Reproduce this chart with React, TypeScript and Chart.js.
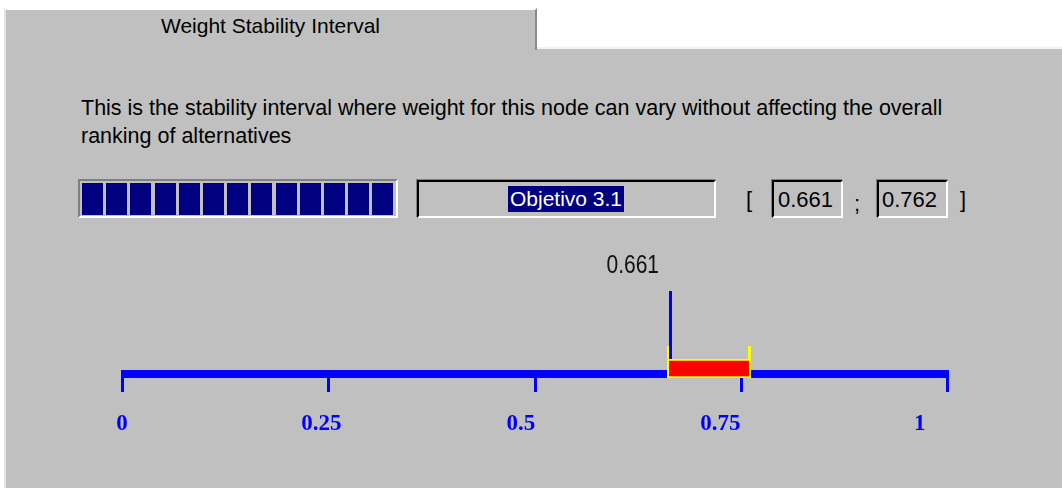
import React, { useEffect, useRef } from "react";
import { Chart, registerables } from "chart.js";

Chart.register(...registerables);

// ---- data ----
const tabTitle = "Weight Stability Interval";
const descriptionLines = [
  "This is the stability interval where weight for this node can vary without affecting the overall",
  "ranking of alternatives",
];
const categories = ["Objetivo 3.1"];
const intervalLow = [0.661];
const intervalHigh = [0.762];
const currentWeight = [0.661];
const lowLabel = "0.661";
const highLabel = "0.762";
const tickValues = [0, 0.25, 0.5, 0.75, 1];
const tickLabels = ["0", "0.25", "0.5", "0.75", "1"];
const progressBlocks = 13;

const SANS = "'Liberation Sans', Arial, sans-serif";
const GRAY = "#C0C0C0";

const intervalPlugin = {
  id: "intervalDecor",
  beforeDatasetsDraw(chart: any) {
    const { ctx, chartArea } = chart;
    const x = chart.scales.x;
    const xl = chart.scales.xl;
    const bottom = chartArea.bottom;
    ctx.save();
    ctx.fillStyle = "#0000FF";
    const x0 = Math.round(x.getPixelForValue(0));
    const x1 = Math.round(x.getPixelForValue(1));
    ctx.fillRect(x0 - 1, bottom - 8, x1 - x0 + 3, 8);
    for (const v of tickValues) {
      const p = Math.round(x.getPixelForValue(v));
      ctx.fillRect(p - 1, bottom, 3, 14);
    }
    ctx.font = "bold 23px 'Liberation Serif', 'Times New Roman', serif";
    ctx.textAlign = "center";
    ctx.textBaseline = "alphabetic";
    tickLabels.forEach((t, i) => {
      ctx.fillText(t, xl.getPixelForValue(tickValues[i]), bottom + 52);
    });
    ctx.restore();
  },
  afterDatasetsDraw(chart: any) {
    const { ctx, chartArea } = chart;
    const x = chart.scales.x;
    const top = chartArea.top;
    ctx.save();
    intervalLow.forEach((lo, i) => {
      const lx = Math.round(x.getPixelForValue(lo));
      const rx = Math.round(x.getPixelForValue(intervalHigh[i]));
      ctx.fillStyle = "#FFFF00";
      ctx.fillRect(lx, top - 13, 3, 14);
      ctx.fillRect(rx - 3, top - 13, 3, 14);
    });
    currentWeight.forEach((w) => {
      const px = Math.round(x.getPixelForValue(w));
      ctx.fillStyle = "#0000FF";
      ctx.fillRect(px + 2, top - 68, 3, 68);
      ctx.fillStyle = "#111111";
      ctx.font = "21px " + SANS;
      ctx.textAlign = "right";
      ctx.textBaseline = "alphabetic";
      ctx.translate(px - 8, top - 86);
      ctx.scale(1, 1.2);
      ctx.fillText(w.toFixed(3), 0, 0);
      ctx.setTransform(1, 0, 0, 1, 0, 0);
    });
    ctx.restore();
  },
};

function IntervalChart() {
  const ref = useRef<HTMLCanvasElement | null>(null);
  useEffect(() => {
    if (!ref.current) return;
    const chart = new Chart(ref.current, {
      type: "bar",
      data: {
        labels: categories,
        datasets: [
          {
            data: intervalLow.map((lo, i) => [lo, intervalHigh[i]]) as any,
            backgroundColor: "#FF0000",
            borderColor: "#FFFF00",
            borderWidth: 2,
            borderSkipped: false,
            barPercentage: 1,
            categoryPercentage: 1,
          },
        ],
      },
      options: {
        indexAxis: "y",
        responsive: false,
        animation: false,
        devicePixelRatio: 1,
        layout: { padding: { left: 122, right: 115, top: 119, bottom: 110 } },
        scales: {
          x: { type: "linear", min: 0, max: 1, display: false },
          xl: { type: "linear", axis: "x", min: 0, max: 1.034, display: false },
          y: { type: "category", display: false },
        },
        plugins: { legend: { display: false }, tooltip: { enabled: false } },
      } as any,
      plugins: [intervalPlugin],
    });
    return () => chart.destroy();
  }, []);
  return (
    <canvas
      ref={ref}
      width={1062}
      height={248}
      style={{ position: "absolute", left: 0, top: 240, width: 1062, height: 248, display: "block" }}
    />
  );
}

function abs(left: number, top: number, w?: number, h?: number): React.CSSProperties {
  return { position: "absolute", left, top, width: w, height: h, boxSizing: "border-box" };
}

export default function App() {
  const sunken: React.CSSProperties = {
    background: GRAY,
    borderTop: "2px solid #000000",
    borderLeft: "2px solid #000000",
    borderBottom: "2px solid #FFFFFF",
    borderRight: "2px solid #FFFFFF",
    boxShadow: "-1px -1px 0 #808080",
  };
  const txt = (fs: number, baseline: number): number => baseline - 0.8465 * fs;
  return (
    <div
      style={{
        position: "fixed",
        left: 0,
        top: 0,
        width: 1062,
        height: 488,
        background: "#FFFFFF",
        overflow: "hidden",
        fontFamily: SANS,
        color: "#000",
      }}
    >
      {/* panel */}
      <div
        style={{
          ...abs(4, 47, 1058, 441),
          background: GRAY,
          borderLeft: "2px solid #E4E4E4",
          borderTop: "2px solid #F2F2F2",
        }}
      />
      {/* tab */}
      <div
        style={{
          ...abs(4, 8, 533, 42),
          background: GRAY,
          borderLeft: "2px solid #E4E4E4",
          borderTop: "2px solid #FFFFFF",
          borderRight: "2px solid #8A8A8A",
        }}
      />
      <div style={{ ...abs(4, txt(21, 33), 533), fontSize: 21, lineHeight: "21px", textAlign: "center", whiteSpace: "nowrap" }}>
        {tabTitle}
      </div>

      {/* description */}
      {descriptionLines.map((l, i) => (
        <div key={i} style={{ ...abs(81, txt(21.5, 116 + i * 28)), fontSize: 21.5, lineHeight: "21.5px", whiteSpace: "nowrap" }}>
          {l}
        </div>
      ))}

      {/* progress bar */}
      <div
        style={{
          ...abs(78, 179, 320, 39),
          background: GRAY,
          borderTop: "2px solid #808080",
          borderLeft: "2px solid #808080",
          borderBottom: "2px solid #FFFFFF",
          borderRight: "2px solid #FFFFFF",
        }}
      />
      {Array.from({ length: progressBlocks }).map((_, i) => (
        <div key={i} style={{ ...abs(82 + Math.round(i * 24.2), 183, 21, 32), background: "#000080" }} />
      ))}

      {/* node name box */}
      <div style={{ ...abs(417, 180, 299, 38), ...sunken }} />
      <div
        style={{
          ...abs(508, 186, 116, 26),
          background: "#000080",
          color: "#FFFFFF",
          fontSize: 21,
          lineHeight: "26px",
          textAlign: "center",
          whiteSpace: "nowrap",
        }}
      >
        {categories[0]}
      </div>

      {/* interval boxes */}
      <div style={{ ...abs(746, txt(22, 208)), fontSize: 22, lineHeight: "22px" }}>[</div>
      <div style={{ ...abs(772, 180, 71, 38), ...sunken }} />
      <div style={{ ...abs(778, txt(22, 208)), fontSize: 22, lineHeight: "22px" }}>{lowLabel}</div>
      <div style={{ ...abs(854, txt(22, 212)), fontSize: 22, lineHeight: "22px" }}>;</div>
      <div style={{ ...abs(877, 180, 71, 38), ...sunken }} />
      <div style={{ ...abs(882, txt(22, 208)), fontSize: 22, lineHeight: "22px" }}>{highLabel}</div>
      <div style={{ ...abs(960, txt(22, 208)), fontSize: 22, lineHeight: "22px" }}>]</div>

      <IntervalChart />
    </div>
  );
}
